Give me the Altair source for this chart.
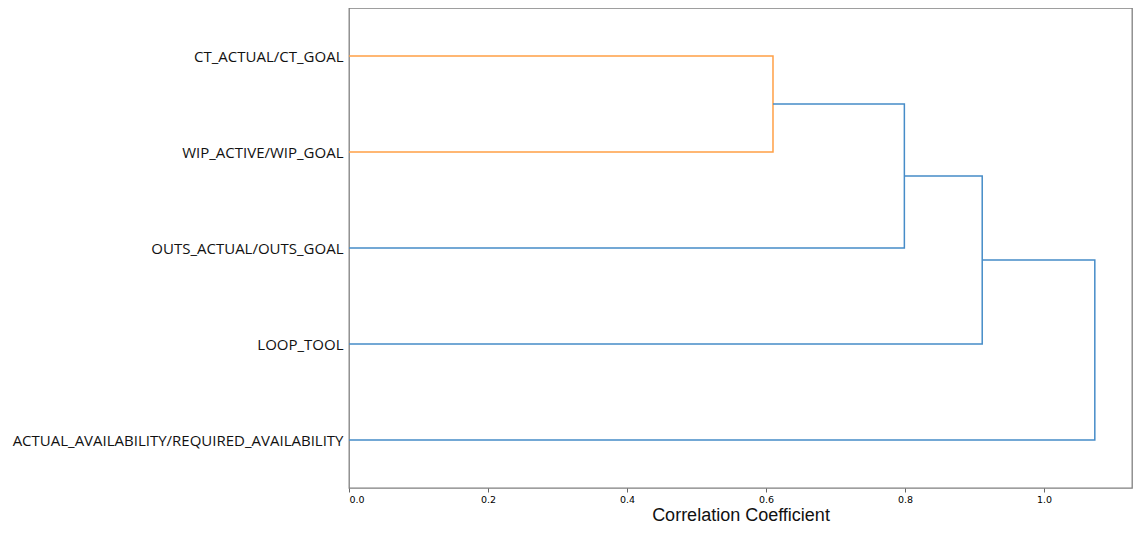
import altair as alt
import pandas as pd

# Leaf labels (bottom to top) and their positions on the dendrogram axis
leaf_labels = [
    "ACTUAL_AVAILABILITY/REQUIRED_AVAILABILITY",
    "LOOP_TOOL",
    "OUTS_ACTUAL/OUTS_GOAL",
    "WIP_ACTIVE/WIP_GOAL",
    "CT_ACTUAL/CT_GOAL",
]
leaf_pos = [5, 15, 25, 35, 45]

# Links in scipy dendrogram style: icoord (leaf axis) and dcoord (distance axis)
icoord = [
    [35, 35, 45, 45],
    [25, 25, 40, 40],
    [15, 15, 32.5, 32.5],
    [5, 5, 23.75, 23.75],
]
dcoord = [
    [0.0, 0.61, 0.61, 0.0],
    [0.0, 0.799, 0.799, 0.61],
    [0.0, 0.911, 0.911, 0.799],
    [0.0, 1.073, 1.073, 0.911],
]
link_color = ["C1", "C0", "C0", "C0"]

rows = []
for k, (ic, dc, c) in enumerate(zip(icoord, dcoord, link_color)):
    for j in range(4):
        rows.append({"link": k, "order": j, "pos": ic[j], "dist": dc[j], "color": c})
df = pd.DataFrame(rows)

label_expr = " : ".join(
    f"datum.value == {p} ? '{l}'" for p, l in zip(leaf_pos, leaf_labels)
) + " : ''"

chart = (
    alt.Chart(df)
    .mark_line(strokeWidth=1.5, interpolate="linear")
    .encode(
        x=alt.X(
            "dist:Q",
            scale=alt.Scale(domain=[0, 1.1265], nice=False, zero=False),
            axis=alt.Axis(
                values=[0.0, 0.2, 0.4, 0.6, 0.8, 1.0],
                format=".1f",
                title="Correlation Coefficient",
                titleFont="Liberation Sans",
                titleFontSize=18,
                titleFontWeight="normal",
                titleColor="#111111",
                titlePadding=3,
                labelFont="DejaVu Sans",
                labelFontSize=9.5,
                labelColor="#000000",
                labelPadding=2,
                tickSize=4,
                tickColor="#666666",
                domain=False,
                grid=False,
            ),
        ),
        y=alt.Y(
            "pos:Q",
            scale=alt.Scale(domain=[0, 50], nice=False, zero=False),
            axis=alt.Axis(
                values=leaf_pos,
                labelExpr=label_expr,
                title=None,
                ticks=False,
                labelFont="Open Sans",
                labelFontSize=15,
                labelColor="#111111",
                labelPadding=6,
                labelLimit=1000,
                domain=False,
                grid=False,
            ),
        ),
        color=alt.Color(
            "color:N",
            scale=alt.Scale(domain=["C0", "C1"], range=["#468cc8", "#ffa046"]),
            legend=None,
        ),
        detail="link:N",
        order="order:Q",
    )
    .properties(
        width=783,
        height=480,
        autosize=alt.AutoSizeParams(type="none"),
        padding={"left": 341, "top": 0, "right": 1, "bottom": 38},
    )
    .configure_view(stroke="#7f7f7f", strokeWidth=1.3)
)

chart.save("out.html", embed_options={"renderer": "svg", "actions": False})
